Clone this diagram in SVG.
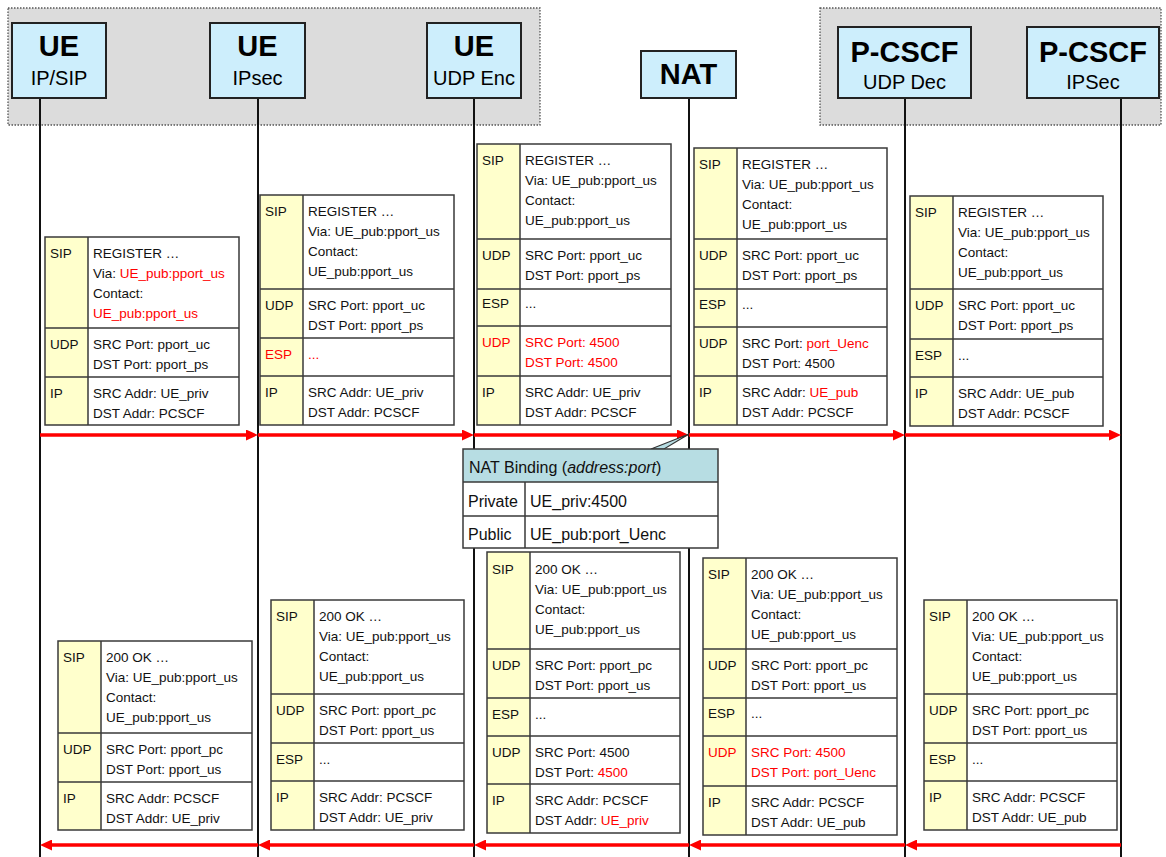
<svg xmlns="http://www.w3.org/2000/svg" width="1166" height="857" viewBox="0 0 1166 857">
  <style>
    .zone { fill: #dcdcdc; stroke: #555; stroke-width: 1.3; stroke-dasharray: 1.5 1.5; }
    .life { stroke: #111; stroke-width: 2; fill: none; }
    .ent rect { fill: #cdeefc; stroke: #222; stroke-width: 2; }
    .ent text { font-family: "Liberation Sans", Arial, sans-serif; text-anchor: middle; fill: #000; }
    .ent .big { font-size: 29px; font-weight: bold; }
    .ent .sub { font-size: 20px; }
    .pkt text { font-family: "Liberation Sans", Arial, sans-serif; font-size: 13.5px; fill: #111; }
    .pkt .r, .pkt tspan.r { fill: #ff0000; }
    .cell { fill: #ffffff; }
    .lab { fill: #ffffcc; }
    .rule { fill: none; stroke: #3a3a3a; stroke-width: 1.5; }
    .msg { stroke: #ff0000; stroke-width: 3.5; fill: none; marker-end: url(#ah); }
    .nat text { font-family: "Liberation Sans", Arial, sans-serif; font-size: 16px; fill: #111; }
    .nat .hd { fill: #b7dde3; }
  </style>
  <defs>
    <marker id="ah" markerWidth="12" markerHeight="11" refX="4" refY="5.5" orient="auto" markerUnits="userSpaceOnUse">
      <path d="M0,0 L12,5.5 L0,11 Z" fill="#ff0000"/>
    </marker>
  </defs>

  <!-- terminal and server domains -->
  <rect class="zone" x="8" y="8" width="532" height="117"/>
  <rect class="zone" x="820" y="8" width="341" height="117"/>

  <!-- lifelines -->
  <g id="lifelines">
    <path class="life" d="M40,98V857 M258,98V857 M474,98V857 M689,98V857 M905,98V857 M1121,98V857"/>
  </g>

  <!-- entities -->
  <g id="ue-ipsip" class="ent">
    <rect x="12" y="23" width="94" height="75"/>
    <text class="big" x="59" y="56">UE</text>
    <text class="sub" x="59" y="85">IP/SIP</text>
  </g>
  <g id="ue-ipsec" class="ent">
    <rect x="210" y="23" width="95" height="75"/>
    <text class="big" x="257.5" y="56">UE</text>
    <text class="sub" x="257.5" y="85">IPsec</text>
  </g>
  <g id="ue-udpenc" class="ent">
    <rect x="427" y="23" width="94" height="75"/>
    <text class="big" x="474" y="56">UE</text>
    <text class="sub" x="474" y="85">UDP Enc</text>
  </g>
  <g id="nat" class="ent">
    <rect x="641" y="51" width="95" height="47"/>
    <text class="big" x="688.5" y="84">NAT</text>
  </g>
  <g id="pcscf-udpdec" class="ent">
    <rect x="838" y="27" width="133" height="71"/>
    <text class="big" x="904.5" y="62">P-CSCF</text>
    <text class="sub" x="904.5" y="89">UDP Dec</text>
  </g>
  <g id="pcscf-ipsec" class="ent">
    <rect x="1027" y="27" width="132" height="71"/>
    <text class="big" x="1093" y="62">P-CSCF</text>
    <text class="sub" x="1093" y="89">IPSec</text>
  </g>

  <!-- REGISTER, hop 1: UE IP/SIP -> UE IPsec -->
  <g id="pkt-reg-1" class="pkt" transform="translate(45,237)">
    <rect class="cell" width="194" height="188"/>
    <rect class="lab" width="43" height="188"/>
    <path class="rule" d="M0,0H194V188H0Z M43,0V188 M0,91H194 M0,140H194"/>
    <text x="5" y="21">SIP</text>
    <text x="48" y="21">REGISTER …</text>
    <text x="48" y="41">Via: <tspan class="r">UE_pub:pport_us</tspan></text>
    <text x="48" y="61">Contact:</text>
    <text x="48" y="81" class="r">UE_pub:pport_us</text>
    <text x="5" y="112">UDP</text>
    <text x="48" y="112">SRC Port: pport_uc</text>
    <text x="48" y="132">DST Port: pport_ps</text>
    <text x="5" y="161">IP</text>
    <text x="48" y="161">SRC Addr: UE_priv</text>
    <text x="48" y="181">DST Addr: PCSCF</text>
  </g>

  <!-- REGISTER, hop 2: UE IPsec -> UE UDP Enc -->
  <g id="pkt-reg-2" class="pkt" transform="translate(260,195)">
    <rect class="cell" width="194" height="230"/>
    <rect class="lab" width="43" height="230"/>
    <path class="rule" d="M0,0H194V230H0Z M43,0V230 M0,94H194 M0,143H194 M0,181H194"/>
    <text x="5" y="21">SIP</text>
    <text x="48" y="21">REGISTER …</text>
    <text x="48" y="41">Via: UE_pub:pport_us</text>
    <text x="48" y="61">Contact:</text>
    <text x="48" y="81">UE_pub:pport_us</text>
    <text x="5" y="115">UDP</text>
    <text x="48" y="115">SRC Port: pport_uc</text>
    <text x="48" y="135">DST Port: pport_ps</text>
    <text x="5" y="164" class="r">ESP</text>
    <text x="48" y="164" class="r">...</text>
    <text x="5" y="202">IP</text>
    <text x="48" y="202">SRC Addr: UE_priv</text>
    <text x="48" y="222">DST Addr: PCSCF</text>
  </g>

  <!-- REGISTER, hop 3: UE UDP Enc -> NAT -->
  <g id="pkt-reg-3" class="pkt" transform="translate(477,144)">
    <rect class="cell" width="194" height="281"/>
    <rect class="lab" width="43" height="281"/>
    <path class="rule" d="M0,0H194V281H0Z M43,0V281 M0,95H194 M0,145H194 M0,182H194 M0,232H194"/>
    <text x="5" y="21">SIP</text>
    <text x="48" y="21">REGISTER …</text>
    <text x="48" y="41">Via: UE_pub:pport_us</text>
    <text x="48" y="61">Contact:</text>
    <text x="48" y="81">UE_pub:pport_us</text>
    <text x="5" y="116">UDP</text>
    <text x="48" y="116">SRC Port: pport_uc</text>
    <text x="48" y="136">DST Port: pport_ps</text>
    <text x="5" y="164">ESP</text>
    <text x="48" y="164">...</text>
    <text x="5" y="203" class="r">UDP</text>
    <text x="48" y="203" class="r">SRC Port: 4500</text>
    <text x="48" y="223" class="r">DST Port: 4500</text>
    <text x="5" y="253">IP</text>
    <text x="48" y="253">SRC Addr: UE_priv</text>
    <text x="48" y="273">DST Addr: PCSCF</text>
  </g>

  <!-- REGISTER, hop 4: NAT -> P-CSCF UDP Dec -->
  <g id="pkt-reg-4" class="pkt" transform="translate(694,148)">
    <rect class="cell" width="193" height="277"/>
    <rect class="lab" width="43" height="277"/>
    <path class="rule" d="M0,0H193V277H0Z M43,0V277 M0,91H193 M0,141H193 M0,179H193 M0,228H193"/>
    <text x="5" y="21">SIP</text>
    <text x="48" y="21">REGISTER …</text>
    <text x="48" y="41">Via: UE_pub:pport_us</text>
    <text x="48" y="61">Contact:</text>
    <text x="48" y="81">UE_pub:pport_us</text>
    <text x="5" y="112">UDP</text>
    <text x="48" y="112">SRC Port: pport_uc</text>
    <text x="48" y="132">DST Port: pport_ps</text>
    <text x="5" y="161">ESP</text>
    <text x="48" y="161">...</text>
    <text x="5" y="200">UDP</text>
    <text x="48" y="200">SRC Port: <tspan class="r">port_Uenc</tspan></text>
    <text x="48" y="220">DST Port: 4500</text>
    <text x="5" y="249">IP</text>
    <text x="48" y="249">SRC Addr: <tspan class="r">UE_pub</tspan></text>
    <text x="48" y="269">DST Addr: PCSCF</text>
  </g>

  <!-- REGISTER, hop 5: P-CSCF UDP Dec -> P-CSCF IPSec -->
  <g id="pkt-reg-5" class="pkt" transform="translate(910,196)">
    <rect class="cell" width="193" height="230"/>
    <rect class="lab" width="43" height="230"/>
    <path class="rule" d="M0,0H193V230H0Z M43,0V230 M0,93H193 M0,143H193 M0,181H193"/>
    <text x="5" y="21">SIP</text>
    <text x="48" y="21">REGISTER …</text>
    <text x="48" y="41">Via: UE_pub:pport_us</text>
    <text x="48" y="61">Contact:</text>
    <text x="48" y="81">UE_pub:pport_us</text>
    <text x="5" y="114">UDP</text>
    <text x="48" y="114">SRC Port: pport_uc</text>
    <text x="48" y="134">DST Port: pport_ps</text>
    <text x="5" y="164">ESP</text>
    <text x="48" y="164">...</text>
    <text x="5" y="202">IP</text>
    <text x="48" y="202">SRC Addr: UE_pub</text>
    <text x="48" y="222">DST Addr: PCSCF</text>
  </g>

  <!-- 200 OK, hop 5: UE IPsec -> UE IP/SIP -->
  <g id="pkt-ok-1" class="pkt" transform="translate(58,641)">
    <rect class="cell" width="194" height="189"/>
    <rect class="lab" width="43" height="189"/>
    <path class="rule" d="M0,0H194V189H0Z M43,0V189 M0,92H194 M0,141H194"/>
    <text x="5" y="21">SIP</text>
    <text x="48" y="21">200 OK …</text>
    <text x="48" y="41">Via: UE_pub:pport_us</text>
    <text x="48" y="61">Contact:</text>
    <text x="48" y="81">UE_pub:pport_us</text>
    <text x="5" y="113">UDP</text>
    <text x="48" y="113">SRC Port: pport_pc</text>
    <text x="48" y="133">DST Port: pport_us</text>
    <text x="5" y="162">IP</text>
    <text x="48" y="162">SRC Addr: PCSCF</text>
    <text x="48" y="182">DST Addr: UE_priv</text>
  </g>

  <!-- 200 OK, hop 4: UE UDP Enc -> UE IPsec -->
  <g id="pkt-ok-2" class="pkt" transform="translate(271,600)">
    <rect class="cell" width="193" height="230"/>
    <rect class="lab" width="43" height="230"/>
    <path class="rule" d="M0,0H193V230H0Z M43,0V230 M0,94H193 M0,143H193 M0,181H193"/>
    <text x="5" y="21">SIP</text>
    <text x="48" y="21">200 OK …</text>
    <text x="48" y="41">Via: UE_pub:pport_us</text>
    <text x="48" y="61">Contact:</text>
    <text x="48" y="81">UE_pub:pport_us</text>
    <text x="5" y="115">UDP</text>
    <text x="48" y="115">SRC Port: pport_pc</text>
    <text x="48" y="135">DST Port: pport_us</text>
    <text x="5" y="164">ESP</text>
    <text x="48" y="164">...</text>
    <text x="5" y="202">IP</text>
    <text x="48" y="202">SRC Addr: PCSCF</text>
    <text x="48" y="222">DST Addr: UE_priv</text>
  </g>

  <!-- 200 OK, hop 3: NAT -> UE UDP Enc -->
  <g id="pkt-ok-3" class="pkt" transform="translate(487,552)">
    <rect class="cell" width="193" height="281"/>
    <rect class="lab" width="43" height="281"/>
    <path class="rule" d="M0,0H193V281H0Z M43,0V281 M0,97H193 M0,146H193 M0,184H193 M0,232H193"/>
    <text x="5" y="22">SIP</text>
    <text x="48" y="22">200 OK …</text>
    <text x="48" y="42">Via: UE_pub:pport_us</text>
    <text x="48" y="62">Contact:</text>
    <text x="48" y="82">UE_pub:pport_us</text>
    <text x="5" y="118">UDP</text>
    <text x="48" y="118">SRC Port: pport_pc</text>
    <text x="48" y="138">DST Port: pport_us</text>
    <text x="5" y="167">ESP</text>
    <text x="48" y="167">...</text>
    <text x="5" y="205">UDP</text>
    <text x="48" y="205">SRC Port: 4500</text>
    <text x="48" y="225">DST Port: <tspan class="r">4500</tspan></text>
    <text x="5" y="253">IP</text>
    <text x="48" y="253">SRC Addr: PCSCF</text>
    <text x="48" y="273">DST Addr: <tspan class="r">UE_priv</tspan></text>
  </g>

  <!-- 200 OK, hop 2: P-CSCF UDP Dec -> NAT -->
  <g id="pkt-ok-4" class="pkt" transform="translate(703,558)">
    <rect class="cell" width="194" height="277"/>
    <rect class="lab" width="43" height="277"/>
    <path class="rule" d="M0,0H194V277H0Z M43,0V277 M0,91H194 M0,140H194 M0,178H194 M0,228H194"/>
    <text x="5" y="21">SIP</text>
    <text x="48" y="21">200 OK …</text>
    <text x="48" y="41">Via: UE_pub:pport_us</text>
    <text x="48" y="61">Contact:</text>
    <text x="48" y="81">UE_pub:pport_us</text>
    <text x="5" y="112">UDP</text>
    <text x="48" y="112">SRC Port: pport_pc</text>
    <text x="48" y="132">DST Port: pport_us</text>
    <text x="5" y="160">ESP</text>
    <text x="48" y="160">...</text>
    <text x="5" y="199" class="r">UDP</text>
    <text x="48" y="199" class="r">SRC Port: 4500</text>
    <text x="48" y="219" class="r">DST Port: port_Uenc</text>
    <text x="5" y="249">IP</text>
    <text x="48" y="249">SRC Addr: PCSCF</text>
    <text x="48" y="269">DST Addr: UE_pub</text>
  </g>

  <!-- 200 OK, hop 1: P-CSCF IPSec -> P-CSCF UDP Dec -->
  <g id="pkt-ok-5" class="pkt" transform="translate(924,600)">
    <rect class="cell" width="193" height="230"/>
    <rect class="lab" width="43" height="230"/>
    <path class="rule" d="M0,0H193V230H0Z M43,0V230 M0,94H193 M0,143H193 M0,181H193"/>
    <text x="5" y="21">SIP</text>
    <text x="48" y="21">200 OK …</text>
    <text x="48" y="41">Via: UE_pub:pport_us</text>
    <text x="48" y="61">Contact:</text>
    <text x="48" y="81">UE_pub:pport_us</text>
    <text x="5" y="115">UDP</text>
    <text x="48" y="115">SRC Port: pport_pc</text>
    <text x="48" y="135">DST Port: pport_us</text>
    <text x="5" y="164">ESP</text>
    <text x="48" y="164">...</text>
    <text x="5" y="202">IP</text>
    <text x="48" y="202">SRC Addr: PCSCF</text>
    <text x="48" y="222">DST Addr: UE_pub</text>
  </g>

  <!-- message hops -->
  <g id="connectors">
    <path class="msg" d="M40,435H250"/>
    <path class="msg" d="M258,435H466"/>
    <path class="msg" d="M474,435H681"/>
    <path class="msg" d="M689,435H897"/>
    <path class="msg" d="M905,435H1113"/>
    <path class="msg" d="M1121,845H913"/>
    <path class="msg" d="M905,845H697"/>
    <path class="msg" d="M689,845H482"/>
    <path class="msg" d="M474,845H266"/>
    <path class="msg" d="M258,845H48"/>
  </g>

  <!-- NAT binding table with callout to the NAT -->
  <g id="nat-binding" class="nat">
    <path d="M651,449 L689,434 L664,449 Z" fill="#b7dde3" stroke="#333" stroke-width="1.2"/>
    <rect class="hd" x="463" y="449" width="255" height="33"/>
    <rect fill="#fff" x="463" y="482" width="255" height="66"/>
    <path class="rule" d="M463,449H718V548H463Z M463,482H718 M463,516H718 M525,482V548"/>
    <text x="469" y="473">NAT Binding (<tspan font-style="italic">address:port</tspan>)</text>
    <text x="468" y="507">Private</text>
    <text x="530" y="507">UE_priv:4500</text>
    <text x="468" y="540">Public</text>
    <text x="530" y="540">UE_pub:port_Uenc</text>
  </g>
</svg>
